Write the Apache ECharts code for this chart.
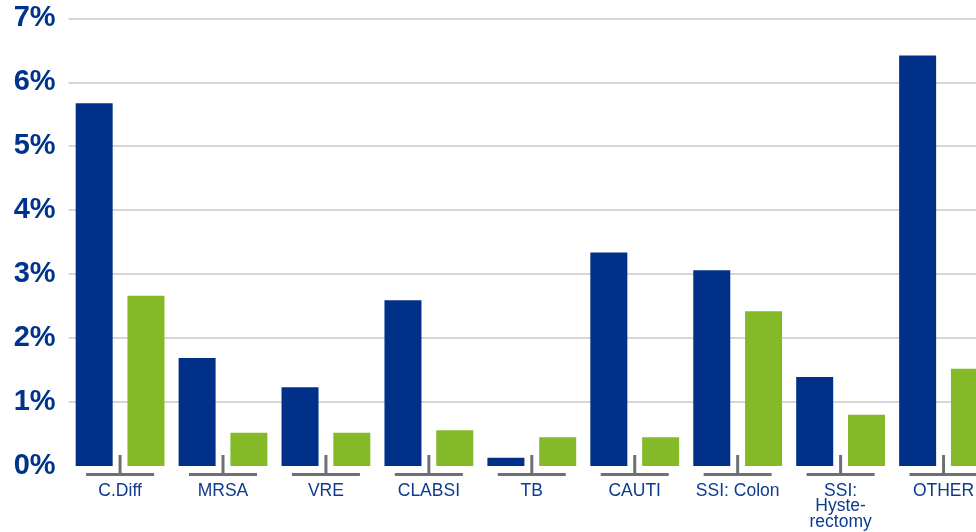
<!DOCTYPE html>
<html>
<head>
<meta charset="utf-8">
<script src="https://cdn.jsdelivr.net/npm/echarts@6/dist/echarts.min.js"></script>
<style>
  html, body { margin: 0; padding: 0; background: #fff; overflow: hidden; }
  /* the original picture is cut off on the right, so the chart runs past the window */
  #main { width: 995px; height: 532px; }
</style>
</head>
<body>
<div id="main"></div>
<script>
var categories = ['C.Diff', 'MRSA', 'VRE', 'CLABSI', 'TB', 'CAUTI', 'SSI: Colon', 'SSI:\nHyste-\nrectomy', 'OTHER'];
var blueValues = [5.67, 1.69, 1.23, 2.59, 0.13, 3.34, 3.06, 1.39, 6.42];
var greenValues = [2.66, 0.52, 0.52, 0.56, 0.45, 0.45, 2.42, 0.80, 1.52];

var _chart = echarts.init(document.getElementById('main'), null, { renderer: 'canvas' });

// group brackets under each category (inverted T)
function renderBracket(params, api) {
	var p = api.coord([api.value(0), 0]);
	var st = { stroke: '#6f7073', lineWidth: 3 };
	return {
		type: 'group',
		children: [
			{ type: 'line', shape: { x1: p[0] - 34, y1: p[1] + 8.5, x2: p[0] + 34, y2: p[1] + 8.5 }, style: st },
			{ type: 'line', shape: { x1: p[0], y1: p[1] - 11, x2: p[0], y2: p[1] + 8.5 }, style: st }
		]
	};
}

var option = {
	animation: false,
	textStyle: { fontFamily: 'Liberation Sans, Arial, sans-serif' },
	grid: {
		left: 68.6,
		right: 0,
		top: 18.3,
		bottom: 66
	},
	xAxis: {
		type: 'category',
		data: categories,
		axisLine: { show: false },
		axisTick: { show: false },
		axisLabel: {
			color: '#0d3b8e',
			fontSize: 17.5,
			lineHeight: 15.5,
			margin: 17,
			interval: 0
		}
	},
	yAxis: {
		type: 'value',
		min: 0,
		max: 7,
		interval: 1,
		axisLine: { show: false },
		axisTick: { show: false },
		axisLabel: {
			formatter: '{value}%',
			color: '#00338d',
			fontSize: 29,
			fontWeight: 'bold',
			margin: 13
		},
		splitLine: {
			showMinLine: false,
			lineStyle: { color: '#c8c8c8', width: 1.5 }
		}
	},
	series: [
		{
			type: 'bar',
			data: blueValues,
			barWidth: 37,
			barGap: '40%',
			itemStyle: { color: '#003087' }
		},
		{
			type: 'bar',
			data: greenValues,
			barWidth: 37,
			itemStyle: { color: '#84b928' }
		},
		{
			type: 'custom',
			renderItem: renderBracket,
			data: categories.map(function (c, i) { return [i, 0]; }),
			encode: { x: 0, y: 1 },
			clip: false,
			silent: true
		}
	]
};
_chart.setOption(option);
</script>
</body>
</html>
